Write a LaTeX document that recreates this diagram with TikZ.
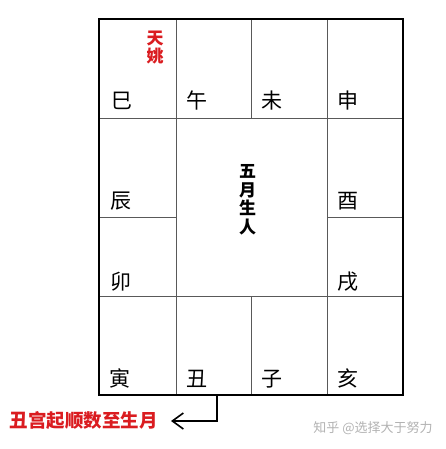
\documentclass[tikz,border=0pt]{standalone}
\usepackage{fontspec}
\newfontfamily\cjk{Noto Sans CJK SC}
\usetikzlibrary{arrows.meta}
\definecolor{tianred}{RGB}{218,28,32}

\begin{document}
\begin{tikzpicture}[x=1pt, y=-1pt,
  zhi/.style={anchor=base, inner sep=0pt, font=\cjk\fontsize{21}{21}\selectfont},
  redstack/.style={tianred, align=center, inner sep=0pt, font=\cjk\bfseries\fontsize{17}{18}\selectfont},
  cell/.style={draw=black!65, line width=0.9pt}]
\useasboundingbox (0,0) rectangle (446,449);

% palace grid
\draw[cell] (176,19) -- (176,395);
\draw[cell] (327,19) -- (327,395);
\draw[cell] (251,19) -- (251,118);
\draw[cell] (251,296) -- (251,395);
\draw[cell] (99,118) -- (403,118);
\draw[cell] (99,296) -- (403,296);
\draw[cell] (99,217) -- (176,217);
\draw[cell] (327,217) -- (403,217);
\draw[line width=2.6pt] (99,19) rectangle (403,395);

\draw
(122, 108.5) node[zhi](si){巳}
(197, 108.5) node[zhi](wu){午}
(272, 108.5) node[zhi](wei){未}
(348, 108.5) node[zhi](shen){申}
(121, 208.5) node[zhi](chen){辰}
(348, 208.5) node[zhi](you){酉}
(121, 289.5) node[zhi](mao){卯}
(348, 289.5) node[zhi](xu){戌}
(120, 386.5) node[zhi](yin){寅}
(197, 386.5) node[zhi](chou){丑}
(272, 386.5) node[zhi](zi){子}
(348, 386.5) node[zhi](hai){亥};

\node[redstack] (tianyao) at (155, 48) {天\\姚};
\node[align=center, inner sep=0pt, font=\cjk\bfseries\fontsize{17}{18.5}\selectfont] (month) at (247.5, 200) {五\\月\\生\\人};

% note below the chart
\node[tianred, anchor=east, inner sep=0pt, inner xsep=13pt, font=\cjk\bfseries\fontsize{18.5}{18.5}\selectfont] (note) at (171, 421) {丑宫起顺数至生月};
\coordinate (start) at (217, 395);
\draw[line width=1.6pt, -{Straight Barb[length=11pt, width=16pt]}] (start) |- (note.east);

\node[black!30, inner sep=0pt, font=\cjk\fontsize{13}{13}\selectfont] (mark) at (373, 428) {知乎 @选择大于努力};
\end{tikzpicture}
\end{document}
